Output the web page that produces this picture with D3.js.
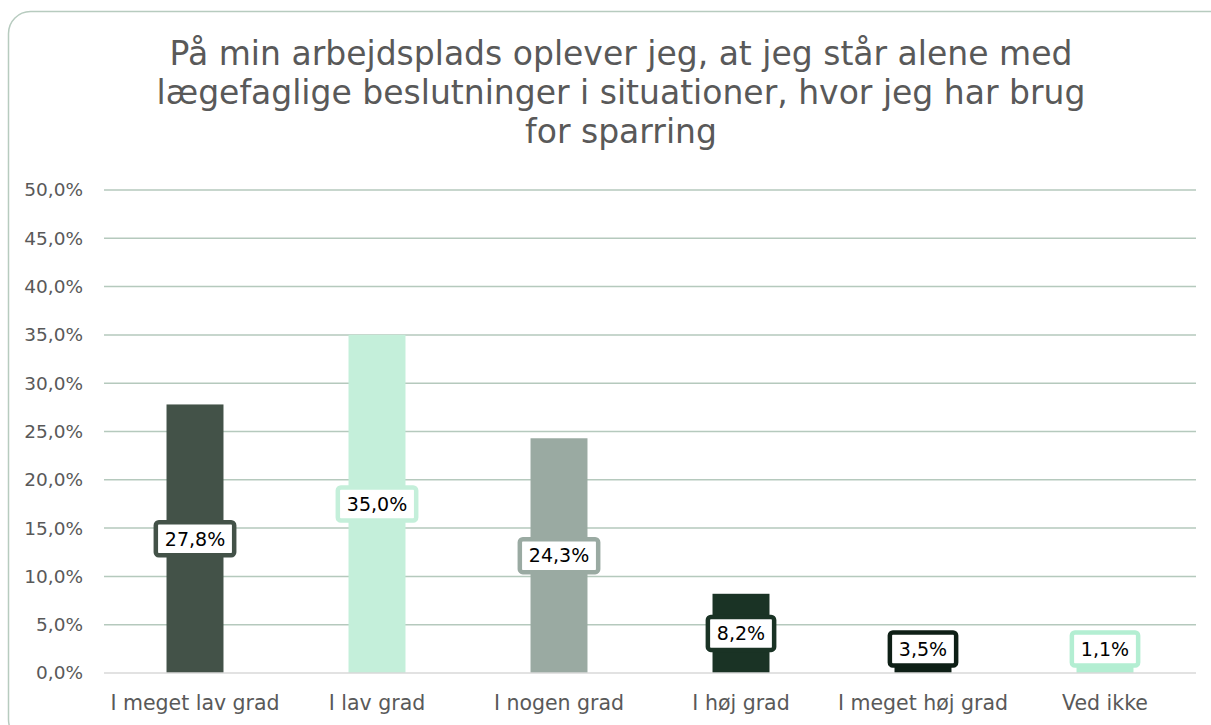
<!DOCTYPE html>
<html>
<head>
<meta charset="utf-8">
<script src="https://cdn.jsdelivr.net/npm/d3@7"></script>
<style>
  body { margin: 0; background: #fff; }
  text { font-family: "DejaVu Sans", sans-serif; }
</style>
</head>
<body>
<div id="chart"></div>
<script>
// data
const categories = ["I meget lav grad", "I lav grad", "I nogen grad", "I høj grad", "I meget høj grad", "Ved ikke"];
const values = [27.8, 35.0, 24.3, 8.2, 3.5, 1.1];
const barColors = ["#435248", "#c4efda", "#9aaaa2", "#1a3325", "#0e1f16", "#b3eed2"];
const yTicks = [0, 5, 10, 15, 20, 25, 30, 35, 40, 45, 50];
const titleLines = [
  "På min arbejdsplads oplever jeg, at jeg står alene med",
  "lægefaglige beslutninger i situationer, hvor jeg har brug",
  "for sparring"
];

const width = 1211,
  height = 725;

const svg = d3.select("#chart")
  .append("svg")
  .attr("width", width)
  .attr("height", height);

// outer frame (runs off right/bottom edge)
svg.append("rect")
  .attr("x", 8.5)
  .attr("y", 11.5)
  .attr("width", 1230)
  .attr("height", 730)
  .attr("rx", 22)
  .attr("fill", "none")
  .attr("stroke", "#b7cbbf")
  .attr("stroke-width", 1.5);

// danish number format
const locale = d3.formatLocale({ decimal: ",", thousands: ".", grouping: [3], currency: ["", " kr"] });
const fmt = locale.format(".1f");

const x = d3.scaleBand()
  .domain(categories)
  .range([104, 1196])
  .paddingInner(0.687)
  .paddingOuter(0.3435);

const y = d3.scaleLinear()
  .domain([0, 50])
  .range([673, 190]);

// title
svg.append("text")
  .attr("text-anchor", "middle")
  .attr("fill", "#595959")
  .style("font-size", "33px")
  .selectAll("tspan")
  .data(titleLines)
  .join("tspan")
  .attr("x", 621)
  .attr("y", (d, i) => 65 + i * 39)
  .text(d => d);

// gridlines
svg.append("g")
  .selectAll("line")
  .data(yTicks.filter(t => t > 0))
  .join("line")
  .attr("x1", 104)
  .attr("x2", 1196)
  .attr("y1", d => y(d))
  .attr("y2", d => y(d))
  .attr("stroke", "#b5c9bd")
  .attr("stroke-width", 1.5);

// y axis labels
const yAxis = svg.append("g")
  .attr("transform", "translate(104,0)")
  .call(d3.axisLeft(y).tickValues(yTicks).tickSize(0).tickPadding(21).tickFormat(d => fmt(d) + "%"));
yAxis.select(".domain").remove();
yAxis.selectAll("text")
  .attr("fill", "#595959")
  .style("font-size", "18.5px")
  .style("font-family", "'DejaVu Sans', sans-serif");

// bars
svg.append("g")
  .selectAll("rect")
  .data(values)
  .join("rect")
  .attr("x", (d, i) => x(categories[i]))
  .attr("y", d => y(d))
  .attr("width", x.bandwidth())
  .attr("height", d => y(0) - y(d))
  .attr("fill", (d, i) => barColors[i]);

// baseline
svg.append("line")
  .attr("x1", 104)
  .attr("x2", 1196)
  .attr("y1", y(0))
  .attr("y2", y(0))
  .attr("stroke", "#d9d9d9")
  .attr("stroke-width", 1.5);

// x axis labels
const xAxis = svg.append("g")
  .attr("transform", `translate(0,${y(0)})`)
  .call(d3.axisBottom(x).tickSize(0).tickPadding(22));
xAxis.select(".domain").remove();
xAxis.selectAll("text")
  .attr("fill", "#595959")
  .style("font-size", "20.5px")
  .style("font-family", "'DejaVu Sans', sans-serif");

// value labels
const labels = svg.append("g")
  .selectAll("g")
  .data(values)
  .join("g")
  .attr("transform", (d, i) => {
    const cx = x(categories[i]) + x.bandwidth() / 2;
    const cy = Math.min((y(d) + y(0)) / 2, y(0) - 24);
    return `translate(${cx},${cy})`;
  });

labels.append("rect").attr("class", "lbl-box");
labels.append("text")
  .attr("text-anchor", "middle")
  .attr("dy", "0.36em")
  .attr("fill", "#000")
  .style("font-size", "19px")
  .text(d => fmt(d) + "%");

labels.each(function(d, i) {
  const g = d3.select(this);
  const w = g.select("text").node().getComputedTextLength() + 18;
  const h = 33;
  g.select("rect")
    .attr("x", -w / 2)
    .attr("y", -h / 2)
    .attr("width", w)
    .attr("height", h)
    .attr("rx", 3)
    .attr("fill", "#fff")
    .attr("stroke", barColors[i])
    .attr("stroke-width", 4.5);
});
</script>
</body>
</html>
